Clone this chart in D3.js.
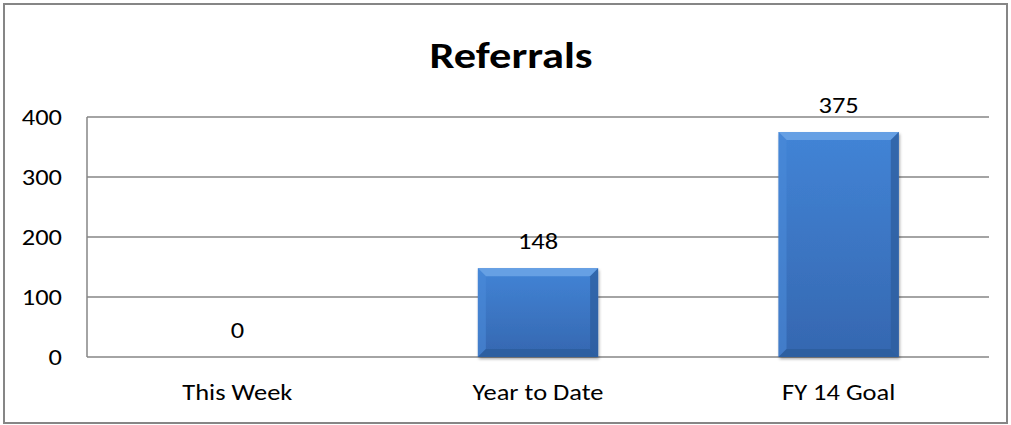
<!DOCTYPE html>
<html>
<head>
<meta charset="utf-8">
<script src="https://cdn.jsdelivr.net/npm/d3@7"></script>
<style>
  html, body { margin: 0; padding: 0; background: #fff; }
  svg { display: block; }
  text { font-family: Carlito, Calibri, Lato, "Open Sans", sans-serif; fill: #000; }
</style>
</head>
<body>
<svg id="chart" width="1011" height="425"></svg>
<script>
// Chart data
const categories = ["This Week", "Year to Date", "FY 14 Goal"];
const values = [0, 148, 375];
const yTicks = [0, 100, 200, 300, 400];
const title = "Referrals";

const W = 1011, H = 425;
const margin = { left: 87, right: 22, top: 117, bottom: 68 };
const labelSize = 23, stretch = 1.15;

const svg = d3.select("#chart");

// Outer chart frame
svg.append("rect")
  .attr("x", 4).attr("y", 4)
  .attr("width", W - 8).attr("height", H - 6)
  .attr("fill", "#fff")
  .attr("stroke", "#868686").attr("stroke-width", 2);

const x = d3.scaleBand()
  .domain(categories)
  .range([margin.left, W - margin.right])
  .paddingInner(0.6).paddingOuter(0.3);

const y = d3.scaleLinear()
  .domain([0, 400])
  .range([H - margin.bottom, margin.top]);

// Gradients for the bevelled bars
const defs = svg.append("defs");
const body = defs.append("linearGradient").attr("id", "barBody")
  .attr("x1", 0).attr("y1", 0).attr("x2", 0).attr("y2", 1);
body.append("stop").attr("offset", "0%").attr("stop-color", "#4284d6");
body.append("stop").attr("offset", "100%").attr("stop-color", "#3567b0");

const shadow = defs.append("filter").attr("id", "barShadow")
  .attr("x", "-10%").attr("y", "-10%").attr("width", "130%").attr("height", "130%");
shadow.append("feDropShadow")
  .attr("dx", 1).attr("dy", 2).attr("stdDeviation", 1.5)
  .attr("flood-color", "#000").attr("flood-opacity", 0.35);

// Horizontal gridlines
svg.append("g")
  .selectAll("line")
  .data(yTicks)
  .join("line")
  .attr("x1", margin.left).attr("x2", W - margin.right)
  .attr("y1", d => y(d)).attr("y2", d => y(d))
  .attr("stroke", "#868686").attr("stroke-width", 1.5);

// Y axis line
svg.append("line")
  .attr("x1", margin.left).attr("x2", margin.left)
  .attr("y1", y(400)).attr("y2", y(0))
  .attr("stroke", "#868686").attr("stroke-width", 1.5);

// Y tick labels
const yAxis = d3.axisLeft(y).tickValues(yTicks).tickSize(0).tickPadding(0);
const gy = svg.append("g")
  .attr("transform", `translate(${margin.left},0)`)
  .call(yAxis);
gy.select(".domain").remove();
gy.selectAll("text")
  .attr("font-size", labelSize)
  .attr("font-family", "Carlito, Calibri, Lato, sans-serif")
  .attr("fill", "#000")
  .attr("x", -25 / stretch)
  .attr("transform", `scale(${stretch},1)`);

// X category labels
const xAxis = d3.axisBottom(x).tickSize(0).tickPadding(0);
const gx = svg.append("g")
  .attr("transform", `translate(0,${y(0)})`)
  .call(xAxis);
gx.select(".domain").remove();
gx.selectAll("text")
  .attr("font-size", labelSize)
  .attr("font-family", "Carlito, Calibri, Lato, sans-serif")
  .attr("fill", "#000")
  .attr("dy", null)
  .attr("y", 43)
  .attr("transform", `scale(${stretch},1)`);

// Bars with bevel facets
const bev = 8;
const bars = svg.append("g")
  .selectAll("g")
  .data(categories.map((c, i) => ({ c, v: values[i] })).filter(d => d.v > 0))
  .join("g");

bars.append("rect")
  .attr("x", d => x(d.c)).attr("y", d => y(d.v))
  .attr("width", x.bandwidth()).attr("height", d => y(0) - y(d.v))
  .attr("fill", "url(#barBody)")
  .attr("filter", "url(#barShadow)");

function facet(d, side) {
  const x0 = x(d.c), x1 = x0 + x.bandwidth();
  const y0 = y(d.v), y1 = y(0);
  const b = Math.min(bev, (y1 - y0) / 2);
  switch (side) {
    case "top": return [[x0, y0], [x1, y0], [x1 - b, y0 + b], [x0 + b, y0 + b]];
    case "left": return [[x0, y0], [x0 + b, y0 + b], [x0 + b, y1 - b], [x0, y1]];
    case "right": return [[x1, y0], [x1 - b, y0 + b], [x1 - b, y1 - b], [x1, y1]];
    case "bottom": return [[x0, y1], [x0 + b, y1 - b], [x1 - b, y1 - b], [x1, y1]];
  }
}
const facetFill = { top: "#6aa3e6", left: "#4b8ad9", right: "#2d5d9e", bottom: "#2c5c9c" };
const facetOpacity = { top: 0.9, left: 0.6, right: 0.75, bottom: 0.8 };
["top", "left", "right", "bottom"].forEach(side => {
  bars.append("polygon")
    .attr("points", d => facet(d, side).map(p => p.join(",")).join(" "))
    .attr("fill", facetFill[side])
    .attr("fill-opacity", facetOpacity[side]);
});

// Value labels
svg.append("g")
  .selectAll("text")
  .data(categories.map((c, i) => ({ c, v: values[i] })))
  .join("text")
  .attr("transform", d => `translate(${x(d.c) + x.bandwidth() / 2},${y(d.v) - 19}) scale(${stretch},1)`)
  .attr("text-anchor", "middle")
  .attr("font-size", labelSize)
  .text(d => d.v);

// Title
svg.append("text")
  .attr("transform", `translate(511,68) scale(1.2,1)`)
  .attr("text-anchor", "middle")
  .attr("font-size", 37)
  .attr("font-weight", "bold")
  .text(title);
</script>
</body>
</html>
